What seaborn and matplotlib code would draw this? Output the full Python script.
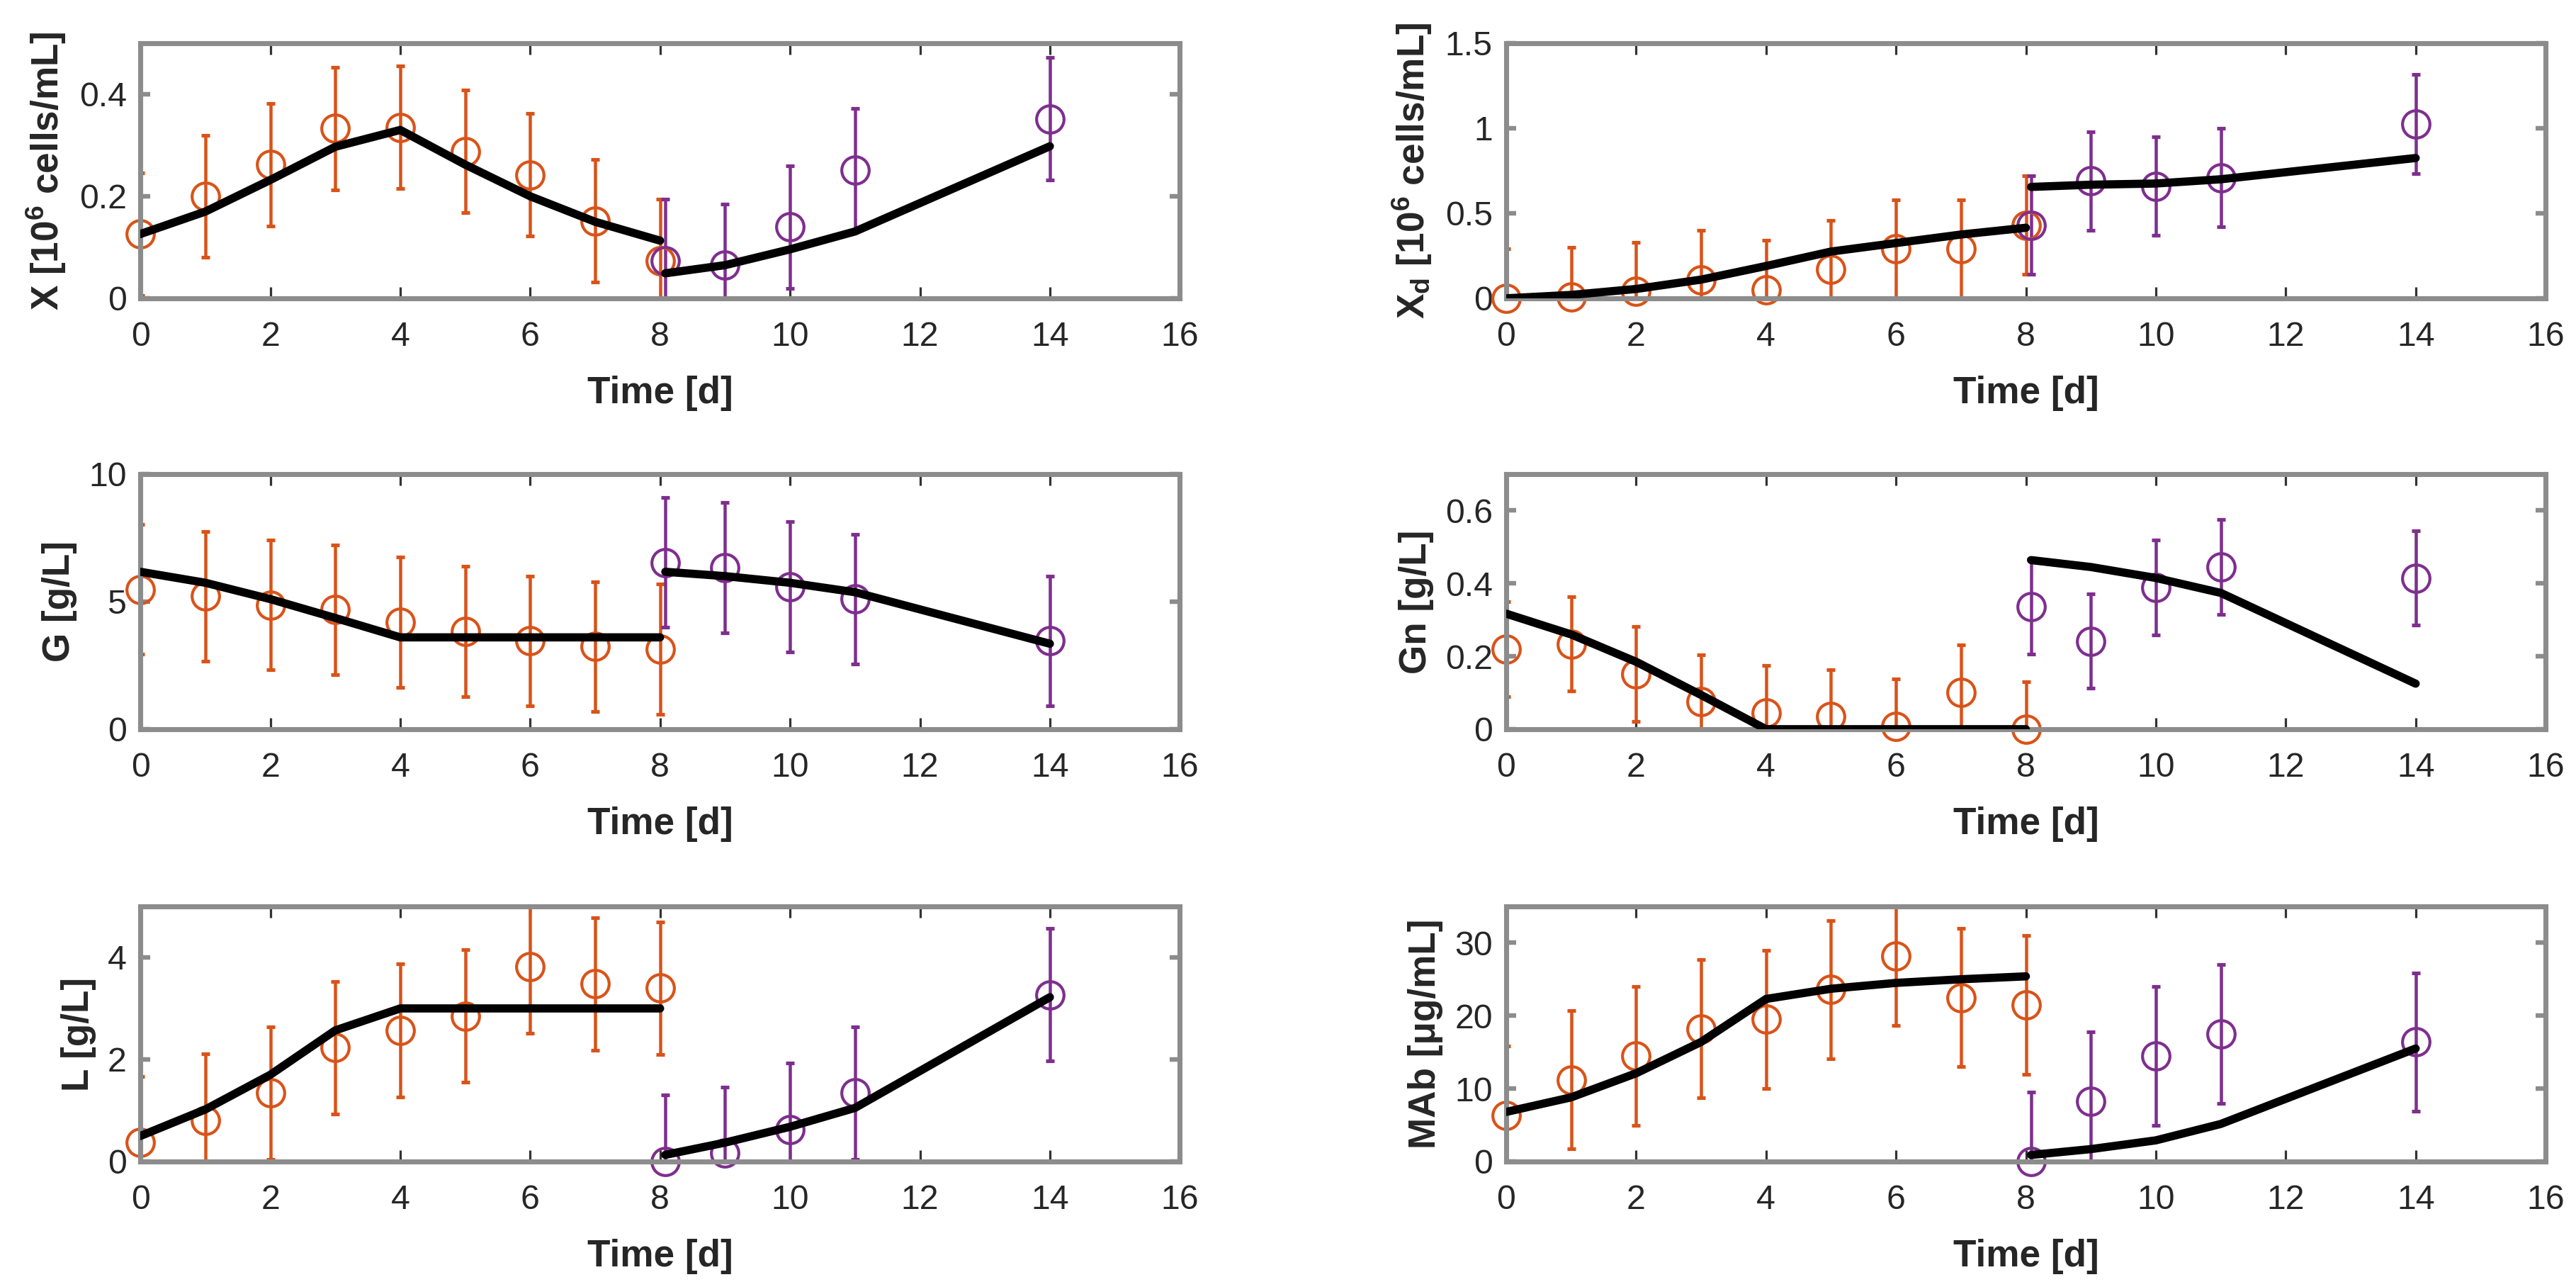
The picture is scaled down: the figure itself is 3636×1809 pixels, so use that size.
import numpy as np
import pandas as pd
import matplotlib
matplotlib.use("Agg")
import matplotlib.pyplot as plt
import seaborn as sns

# --- data ---
t_batch = [0, 1, 2, 3, 4, 5, 6, 7, 8]
t_fed = [8.08, 9, 10, 11, 14]

# viable cells X [1e6 cells/mL]
x_obs_batch = [0.126, 0.200, 0.262, 0.333, 0.335, 0.288, 0.242, 0.152, 0.074]
x_obs_fed = [0.074, 0.065, 0.140, 0.252, 0.352]
x_mod_batch = [0.126, 0.170, 0.232, 0.297, 0.330, 0.262, 0.200, 0.150, 0.113]
x_mod_fed = [0.049, 0.065, 0.096, 0.131, 0.298]
x_err = 0.12

# dead cells Xd
xd_obs_batch = [0.0, 0.01, 0.04, 0.11, 0.05, 0.17, 0.29, 0.29, 0.43]
xd_obs_fed = [0.43, 0.69, 0.66, 0.71, 1.025]
xd_mod_batch = [0.0, 0.02, 0.055, 0.11, 0.19, 0.275, 0.325, 0.375, 0.415]
xd_mod_fed = [0.655, 0.668, 0.675, 0.70, 0.825]
xd_err = 0.29

# glucose G [g/L]
g_obs_batch = [5.48, 5.21, 4.87, 4.68, 4.20, 3.83, 3.46, 3.24, 3.14]
g_obs_fed = [6.54, 6.33, 5.59, 5.10, 3.46]
g_mod_batch = [6.17, 5.74, 5.10, 4.36, 3.60, 3.60, 3.60, 3.60, 3.60]
g_mod_fed = [6.17, 6.00, 5.74, 5.37, 3.35]
g_err = 2.55

# glutamine Gn [g/L]
gn_obs_batch = [0.219, 0.234, 0.151, 0.075, 0.045, 0.034, 0.008, 0.102, 0.0]
gn_obs_fed = [0.336, 0.242, 0.389, 0.445, 0.415]
gn_mod_batch = [0.317, 0.260, 0.185, 0.094, 0.0, 0.0, 0.0, 0.0, 0.0]
gn_mod_fed = [0.464, 0.445, 0.415, 0.374, 0.125]
gn_err = 0.13

# lactate L [g/L]
l_obs_batch = [0.37, 0.81, 1.34, 2.23, 2.57, 2.85, 3.82, 3.48, 3.40]
l_obs_fed = [0.0, 0.16, 0.63, 1.34, 3.27]
l_mod_batch = [0.50, 1.02, 1.70, 2.57, 3.0, 3.0, 3.0, 3.0, 3.0]
l_mod_fed = [0.13, 0.37, 0.68, 1.05, 3.22]
l_err = 1.3

# antibody MAb [ug/mL]
mab_obs_batch = [6.3, 11.2, 14.5, 18.2, 19.5, 23.6, 28.2, 22.5, 21.5]
mab_obs_fed = [0.0, 8.3, 14.5, 17.5, 16.4]
mab_mod_batch = [6.8, 8.8, 12.1, 16.4, 22.3, 23.7, 24.5, 25.0, 25.4]
mab_mod_fed = [0.9, 1.7, 2.9, 5.15, 15.5]
mab_err = 9.5

panels = [
    ("X [10$^6$ cells/mL]", x_obs_batch, x_obs_fed, x_mod_batch, x_mod_fed, x_err,
     (0, 0.5), [0, 0.2, 0.4]),
    ("X$_d$ [10$^6$ cells/mL]", xd_obs_batch, xd_obs_fed, xd_mod_batch, xd_mod_fed, xd_err,
     (0, 1.5), [0, 0.5, 1, 1.5]),
    ("G [g/L]", g_obs_batch, g_obs_fed, g_mod_batch, g_mod_fed, g_err,
     (0, 10), [0, 5, 10]),
    ("Gn [g/L]", gn_obs_batch, gn_obs_fed, gn_mod_batch, gn_mod_fed, gn_err,
     (0, 0.7), [0, 0.2, 0.4, 0.6]),
    ("L [g/L]", l_obs_batch, l_obs_fed, l_mod_batch, l_mod_fed, l_err,
     (0, 5), [0, 2, 4]),
    ("MAb [μg/mL]", mab_obs_batch, mab_obs_fed, mab_mod_batch, mab_mod_fed, mab_err,
     (0, 35), [0, 10, 20, 30]),
]

c_batch = "#D95319"
c_fed = "#7E2F8E"
frame_col = "#8c8c8c"
text_col = "#262626"

sns.set_theme(style="white")
plt.rcParams["font.family"] = ["Liberation Sans", "DejaVu Sans"]
plt.rcParams["mathtext.fontset"] = "custom"
plt.rcParams["mathtext.rm"] = "Liberation Sans:bold"
plt.rcParams["mathtext.it"] = "Liberation Sans:bold"
plt.rcParams["mathtext.bf"] = "Liberation Sans:bold"
plt.rcParams["mathtext.default"] = "rm"

dpi = 231.9
fig = plt.figure(figsize=(3636 / dpi, 1809 / dpi), dpi=dpi)

col_x = [0.0545, 0.5847]
row_y = [0.7673, 0.4312, 0.0940]
w, h = 0.4035, 0.199

for k, (ylab, ob, of, mb, mf, err, ylim, yt) in enumerate(panels):
    r, c = divmod(k, 2)
    ax = fig.add_axes([col_x[c], row_y[r], w, h])

    # error bars (clipped to the axes like the original)
    ax.errorbar(t_batch, ob, yerr=err, fmt="none", ecolor=c_batch,
                elinewidth=1.4, capsize=2, capthick=1.6, zorder=2)
    ax.errorbar(t_fed, of, yerr=err, fmt="none", ecolor=c_fed,
                elinewidth=1.4, capsize=2, capthick=1.6, zorder=2)

    # open-circle measurements
    obs = pd.DataFrame({"t": t_batch + t_fed, "v": ob + of,
                        "phase": ["batch"] * len(t_batch) + ["fed"] * len(t_fed)})
    for ph, col in [("batch", c_batch), ("fed", c_fed)]:
        sub = obs[obs["phase"] == ph]
        sns.lineplot(data=sub, x="t", y="v", ax=ax, color=col, linestyle="none",
                     marker="o", markersize=12, markerfacecolor="none",
                     markeredgecolor=col, markeredgewidth=1.3, clip_on=False,
                     zorder=2.5)

    # model trajectories
    sns.lineplot(x=t_batch, y=mb, ax=ax, color="black", linewidth=3.6, zorder=3)
    sns.lineplot(x=t_fed, y=mf, ax=ax, color="black", linewidth=3.6, zorder=3)

    ax.set_xlim(0, 16)
    ax.set_ylim(*ylim)
    ax.set_xticks(range(0, 17, 2))
    ax.set_xticklabels([str(v) for v in range(0, 17, 2)])
    ax.set_yticks(yt)
    ax.set_yticklabels([f"{v:g}" for v in yt])

    ax.tick_params(axis="x", direction="in", top=True, bottom=True, length=5,
                   width=1.0, color="#333333", labelsize=15, labelcolor=text_col, pad=10)
    ax.tick_params(axis="y", direction="in", left=True, right=True, length=4.5,
                   width=2.0, color=frame_col, labelsize=15, labelcolor=text_col, pad=6)

    for sp in ax.spines.values():
        sp.set_visible(True)
        sp.set_color(frame_col)
        sp.set_linewidth(2.2)

    ax.set_xlabel("Time [d]", fontsize=16.5, fontweight="bold", color=text_col, labelpad=10)
    ax.set_ylabel(ylab, fontsize=16.5, fontweight="bold", color=text_col, labelpad=5)
    ax.grid(False)

fig.savefig("out.png", dpi=dpi)
